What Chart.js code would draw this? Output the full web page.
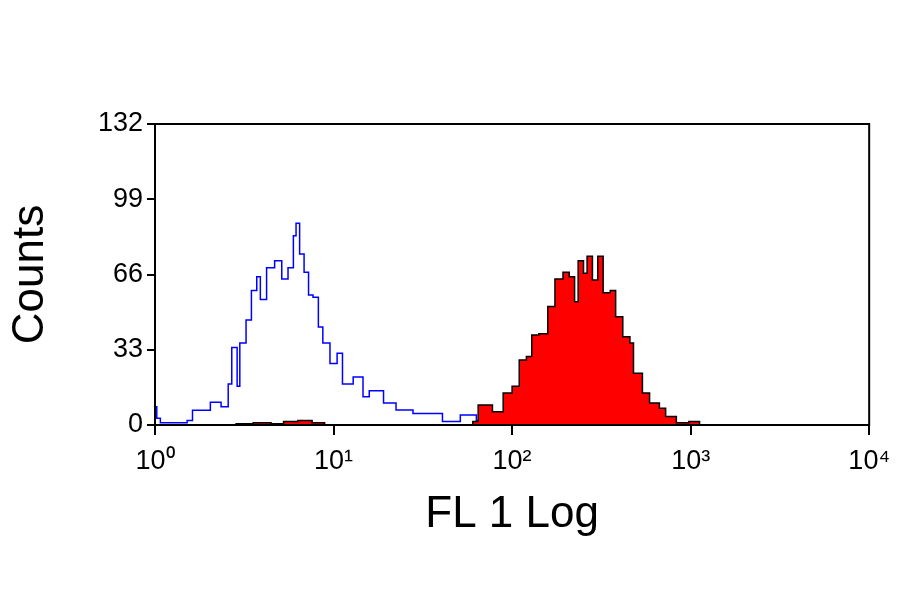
<!DOCTYPE html>
<html>
<head>
<meta charset="utf-8">
<script src="https://cdn.jsdelivr.net/npm/chart.js@4"></script>
<style>
  html, body { margin: 0; padding: 0; background: #fff; }
  #wrap { width: 900px; height: 594px; }
</style>
</head>
<body>
<div id="wrap"><canvas id="c"></canvas></div>
<script>
// Положение по оси X задано в десятичных логарифмах (0 = 10^0, 4 = 10^4)
const blueX = [0, 0.01, 0.03, 0.1, 0.18, 0.21, 0.31, 0.37, 0.41, 0.43, 0.46, 0.475, 0.51, 0.54, 0.57, 0.59,
  0.625, 0.67, 0.71, 0.745, 0.775, 0.79, 0.81, 0.835, 0.86, 0.885, 0.915, 0.94, 0.98, 1.02, 1.05,
  1.11, 1.165, 1.2, 1.28, 1.35, 1.445, 1.52, 1.61, 1.71, 1.8, 1.9, 2.0, 2.1];
const blueY = [8, 3, 1, 1, 2, 6.5, 10, 8, 18, 34, 17, 36, 46, 59, 65, 55,
  69, 72, 64, 69, 83, 88.5, 75, 67, 57, 56, 43, 36, 27, 31.5, 18,
  21, 12.4, 15, 9.6, 6.6, 5, 5, 1.5, 4.4, 2, 1, 0.5, 0];

const redX = [0.45, 0.55, 0.65, 0.72, 0.8, 0.88, 0.95, 1.78, 1.81, 1.89, 1.95, 2.0, 2.04, 2.08, 2.11, 2.15,
  2.2, 2.24, 2.285, 2.32, 2.35, 2.37, 2.4, 2.42, 2.45, 2.48, 2.51, 2.55, 2.58, 2.62,
  2.66, 2.68, 2.73, 2.77, 2.825, 2.86, 2.92, 2.99, 3.05];
const redY = [0.5, 1, 0.5, 1.5, 2, 1, 0, 1.5, 8.8, 5.8, 14, 17, 28.5, 30, 39.5, 40,
  52, 64, 67, 65, 54, 72, 66.5, 74, 63.6, 74, 58, 59, 47.5, 38.7,
  36, 22.7, 14, 9.6, 7.4, 3.7, 1, 1.5, 0];

const xTicks = [0, 1, 2, 3, 4];
const xTickLabels = ['10⁰', '10¹', '10²', '10³', '10⁴'];
const yTicks = [0, 33, 66, 99, 132];

function toPoints(xs, ys) {
  return xs.map((x, i) => ({ x: x, y: ys[i] }));
}

// Рамка вокруг области графика
const boxPlugin = {
  id: 'box',
  afterDraw(chart) {
    const a = chart.chartArea, ctx = chart.ctx;
    ctx.save();
    ctx.strokeStyle = '#000';
    ctx.lineWidth = 2;
    ctx.strokeRect(a.left, a.top, a.right - a.left, a.bottom - a.top);
    ctx.restore();
  }
};

const font = "'Liberation Sans', Arial, sans-serif";

new Chart(document.getElementById('c').getContext('2d'), {
  type: 'line',
  data: {
    datasets: [
      {
        data: toPoints(redX, redY),
        stepped: true,
        borderColor: '#000',
        borderWidth: 1.5,
        backgroundColor: '#ff0000',
        fill: 'origin',
        pointRadius: 0
      },
      {
        data: toPoints(blueX, blueY),
        stepped: true,
        borderColor: '#0000ff',
        borderWidth: 1.5,
        fill: false,
        pointRadius: 0
      }
    ]
  },
  options: {
    responsive: true,
    maintainAspectRatio: false,
    animation: false,
    layout: { padding: { left: 0, top: 124, right: 30, bottom: 49 } },
    plugins: { legend: { display: false }, tooltip: { enabled: false } },
    scales: {
      x: {
        type: 'linear',
        min: 0, max: 4,
        afterBuildTicks: s => { s.ticks = xTicks.map(v => ({ value: v })); },
        afterFit: s => { s.height = 120; },
        ticks: {
          callback: (v) => xTickLabels[xTicks.indexOf(v)],
          color: '#000', font: { family: font, size: 27 }, padding: 10, maxRotation: 0
        },
        grid: { drawOnChartArea: false, tickLength: 10, color: '#000', lineWidth: 2 },
        border: { color: '#000', width: 2 },
        title: { display: true, text: 'FL 1 Log', color: '#000', font: { family: font, size: 44 }, padding: { top: 0 } }
      },
      y: {
        min: 0, max: 132,
        afterBuildTicks: s => { s.ticks = yTicks.map(v => ({ value: v })); },
        afterFit: s => { s.width = 155; },
        ticks: { color: '#000', font: { family: font, size: 27 }, padding: 4 },
        grid: { drawOnChartArea: false, tickLength: 8, color: '#000', lineWidth: 2 },
        border: { color: '#000', width: 2 },
        title: { display: true, text: 'Counts', color: '#000', font: { family: font, size: 44 }, padding: { bottom: 10 } }
      }
    }
  },
  plugins: [boxPlugin]
});
</script>
</body>
</html>
